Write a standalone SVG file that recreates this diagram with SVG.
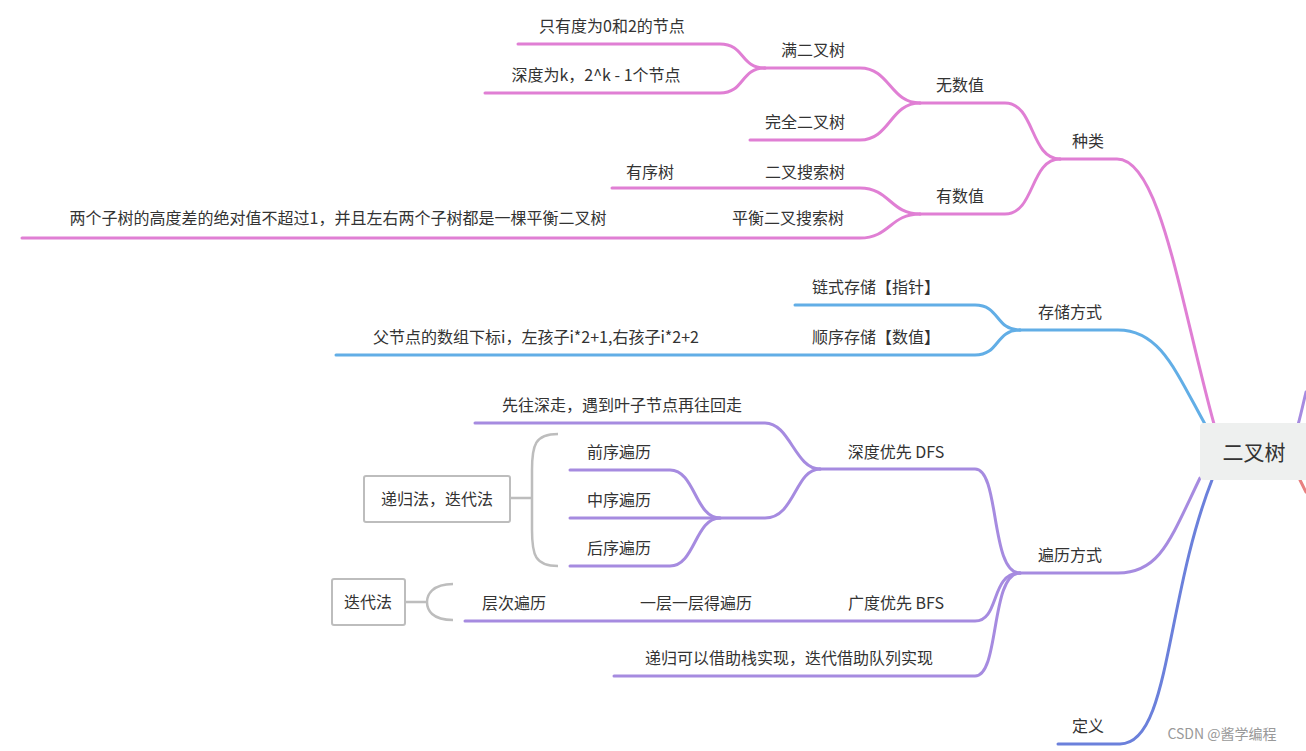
<svg xmlns="http://www.w3.org/2000/svg" width="1306" height="751" viewBox="0 0 1306 751">
<style>
text{font-family:"Noto Sans CJK SC","Noto Sans",sans-serif;font-size:16px;fill:#333;text-anchor:middle}
.c{fill:none;stroke-width:3;stroke-linecap:round}
.p{stroke:#e07fd4}.b{stroke:#62aee6}.v{stroke:#a68be0}.d{stroke:#6b80db}.g{fill:none;stroke:#bdbdbd;stroke-width:2.5}
</style>
<rect width="1306" height="751" fill="#fff"/>
<g id="connectors">
<path class="c v" d="M1298 425 C1302 410 1304 400 1306 392"/>
<path class="c" stroke="#e88080" d="M1300 480 L1306 492"/>
<path class="c p" d="M1214 424 C1180 300 1160 159 1117 159 L1060 159"/>
<path class="c b" d="M1206 426 C1175 370 1160 330 1118 330 L1020 330"/>
<path class="c v" d="M1200 478 C1170 540 1160 573 1118 573 L1020 573"/>
<path class="c d" d="M1212 480 C1165 600 1170 744 1120 744 L1058 744"/>
<path class="c p" d="M1060 159 C1030 159 1035 103 1005 103 L920 103"/>
<path class="c p" d="M1060 159 C1030 159 1035 214 1005 214 L920 214"/>
<path class="c p" d="M920 103 C890 103 890 68 860 68 L765 68"/>
<path class="c p" d="M920 103 C890 103 890 140 860 140 L750 140"/>
<path class="c p" d="M765 68 C740 68 745 44 720 44 L518 44"/>
<path class="c p" d="M765 68 C740 68 745 93 720 93 L485 93"/>
<path class="c p" d="M920 214 C890 214 890 188 860 188 L612 188"/>
<path class="c p" d="M920 214 C890 214 890 238 860 238 L22 238"/>
<path class="c b" d="M1020 330 C995 330 1000 305 975 305 L795 305"/>
<path class="c b" d="M1020 330 C995 330 1000 355 975 355 L336 355"/>
<path class="c v" d="M1020 573 C990 573 1000 469 975 469 L820 469"/>
<path class="c v" d="M1020 573 C990 573 1000 621 975 621 L465 621"/>
<path class="c v" d="M1020 573 C990 573 1000 676 975 676 L614 676"/>
<path class="c v" d="M820 469 C795 469 790 423 765 423 L475 423"/>
<path class="c v" d="M820 469 C795 469 795 518 765 518 L570 518"/>
<path class="c v" d="M720 518 C695 518 695 470 670 470 L570 470"/>
<path class="c v" d="M720 518 C695 518 695 566 670 566 L570 566"/>
<path class="g" d="M558 434 C535 434 532 445 532 470 L532 530 C532 555 535 566 558 566 M510 498 L532 498"/>
<path class="g" d="M453 584 C432 584 427 595 427 602 C427 610 432 620 453 620 M405 602 L427 602"/>
</g>
<g id="root"><rect x="1200" y="423" width="110" height="57" rx="4" fill="#eef0ef"/><text x="1254" y="460" style="font-size:21px">二叉树</text></g>
<g id="n1"><text x="1088" y="147">种类</text></g>
<g id="n2"><text x="1070" y="318">存储方式</text></g>
<g id="n3"><text x="1070" y="561">遍历方式</text></g>
<g id="n4"><text x="1088" y="732">定义</text></g>
<g id="n5"><text x="960" y="91">无数值</text></g>
<g id="n6"><text x="960" y="202">有数值</text></g>
<g id="n7"><text x="813" y="56">满二叉树</text></g>
<g id="n8"><text x="805" y="128">完全二叉树</text></g>
<g id="n9"><text x="612" y="32">只有度为0和2的节点</text></g>
<g id="n10"><text x="596" y="81">深度为k，2^k - 1个节点</text></g>
<g id="n11"><text x="805" y="178">二叉搜索树</text></g>
<g id="n12"><text x="788" y="224">平衡二叉搜索树</text></g>
<g id="n13"><text x="650" y="178">有序树</text></g>
<g id="n14"><text x="338" y="224">两个子树的高度差的绝对值不超过1，并且左右两个子树都是一棵平衡二叉树</text></g>
<g id="n15"><text x="876" y="293">链式存储【指针】</text></g>
<g id="n16"><text x="876" y="343">顺序存储【数值】</text></g>
<g id="n17"><text x="536" y="343">父节点的数组下标i，左孩子i*2+1,右孩子i*2+2</text></g>
<g id="n18"><text x="896" y="458">深度优先 DFS</text></g>
<g id="n19"><text x="896" y="609">广度优先 BFS</text></g>
<g id="n20"><text x="789" y="664">递归可以借助栈实现，迭代借助队列实现</text></g>
<g id="n21"><text x="622" y="411">先往深走，遇到叶子节点再往回走</text></g>
<g id="n22"><text x="619" y="458">前序遍历</text></g>
<g id="n23"><text x="619" y="506">中序遍历</text></g>
<g id="n24"><text x="619" y="554">后序遍历</text></g>
<g id="n25"><text x="696" y="609">一层一层得遍历</text></g>
<g id="n26"><text x="514" y="609">层次遍历</text></g>
<g id="n27"><rect x="364" y="476" width="146" height="46" rx="2" fill="#fff" stroke="#bdbdbd" stroke-width="2"/><text x="437" y="505">递归法，迭代法</text></g>
<g id="n28"><rect x="332" y="579" width="73" height="46" rx="2" fill="#fff" stroke="#bdbdbd" stroke-width="2"/><text x="368" y="608">迭代法</text></g>
<text x="1222" y="739" style="font-size:14px;fill:#999">CSDN @酱学编程</text>
</svg>
